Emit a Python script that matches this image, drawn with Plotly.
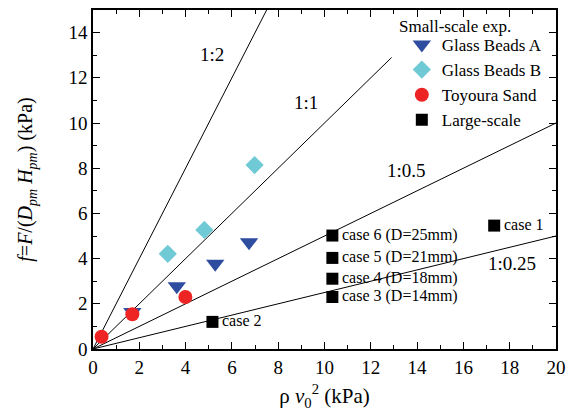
import plotly.graph_objects as go

# data
gba_x = [1.70, 3.62, 5.28, 6.74]
gba_y = [1.64, 2.78, 3.77, 4.72]
gbb_x = [3.23, 4.81, 6.98]
gbb_y = [4.21, 5.27, 8.14]
ts_x = [0.37, 1.70, 3.99]
ts_y = [0.54, 1.54, 2.30]
ls_x = [17.33, 5.16, 10.34, 10.34, 10.34, 10.34]
ls_y = [5.46, 1.20, 2.30, 3.11, 4.03, 5.02]
ls_labels = ["case 1", "case 2", "case 3 (D=14mm)", "case 4 (D=18mm)", "case 5 (D=21mm)", "case 6 (D=25mm)"]

ratio_slopes = [2, 1, 0.5, 0.25]
ratio_xend = [7.5, 12.9, 20, 20]
ratio_labels = ["1:2", "1:1", "1:0.5", "1:0.25"]
ratio_label_x = [5.16, 9.2, 13.55, 18.1]
ratio_label_y = [13.05, 10.92, 7.92, 3.77]

legend_title = "Small-scale exp."

FONT = "Liberation Serif"

fig = go.Figure()

for s, xe in zip(ratio_slopes, ratio_xend):
    fig.add_trace(go.Scatter(x=[0, xe], y=[0, s * xe], mode="lines",
                             line=dict(color="black", width=1), showlegend=False,
                             hoverinfo="skip"))

fig.add_trace(go.Scatter(x=gba_x, y=gba_y, mode="markers", name="Glass Beads A",
                         marker=dict(symbol="triangle-down", size=16, color="#2F4D9F")))
fig.add_trace(go.Scatter(x=gbb_x, y=gbb_y, mode="markers", name="Glass Beads B",
                         marker=dict(symbol="diamond", size=14, color="#6FCAD6")))
fig.add_trace(go.Scatter(x=ts_x, y=ts_y, mode="markers", name="Toyoura Sand",
                         marker=dict(symbol="circle", size=14, color="#EE2424")))
fig.add_trace(go.Scatter(x=ls_x, y=ls_y, mode="markers", name="Large-scale",
                         marker=dict(symbol="square", size=12, color="black")))

for x, y, t in zip(ls_x, ls_y, ls_labels):
    fig.add_annotation(x=x, y=y, text=t, showarrow=False, xanchor="left",
                       xshift=8, yshift=1, font=dict(family=FONT, size=16, color="black"))

for x, y, t in zip(ratio_label_x, ratio_label_y, ratio_labels):
    fig.add_annotation(x=x, y=y, text=t, showarrow=False,
                       font=dict(family=FONT, size=19, color="black"))

fig.add_annotation(x=(399 - 93) / 466, y=(349 - 25) / 341, xref="paper", yref="paper",
                   xanchor="left", yanchor="middle", text=legend_title, showarrow=False,
                   font=dict(family=FONT, size=17, color="black"))

axis_common = dict(showline=True, linecolor="black", linewidth=1.5, mirror="allticks",
                   ticks="inside", ticklen=7, tickwidth=1, tickcolor="black",
                   showgrid=False, zeroline=False,
                   tickfont=dict(family=FONT, size=19, color="black"),
                   minor=dict(ticks="inside", ticklen=4, dtick=1, tickcolor="black"))

fig.update_xaxes(range=[0, 20], dtick=2, tick0=0,
                 title=dict(text="ρ <i>v</i><sub>0</sub><sup>2</sup> (kPa)",
                            font=dict(family=FONT, size=21, color="black"), standoff=12),
                 **axis_common)
fig.update_yaxes(range=[0, 15], dtick=2, tick0=0,
                 title=dict(text="<i>f</i>=<i>F</i>/(<i>D</i><sub><i>pm</i></sub> <i>H</i><sub><i>pm</i></sub>) (kPa)",
                            font=dict(family=FONT, size=20, color="black"), standoff=30),
                 **axis_common)

fig.update_layout(
    width=574, height=416,
    margin=dict(l=93, r=15, t=8, b=67),
    plot_bgcolor="white", paper_bgcolor="white",
    font=dict(family=FONT, color="black"),
    legend=dict(x=0.667, y=0.95, xanchor="left", yanchor="top",
                bgcolor="rgba(255,255,255,0)", borderwidth=0,
                font=dict(family=FONT, size=17), tracegroupgap=0,
                itemwidth=30),
)

fig.write_html("out.html")
